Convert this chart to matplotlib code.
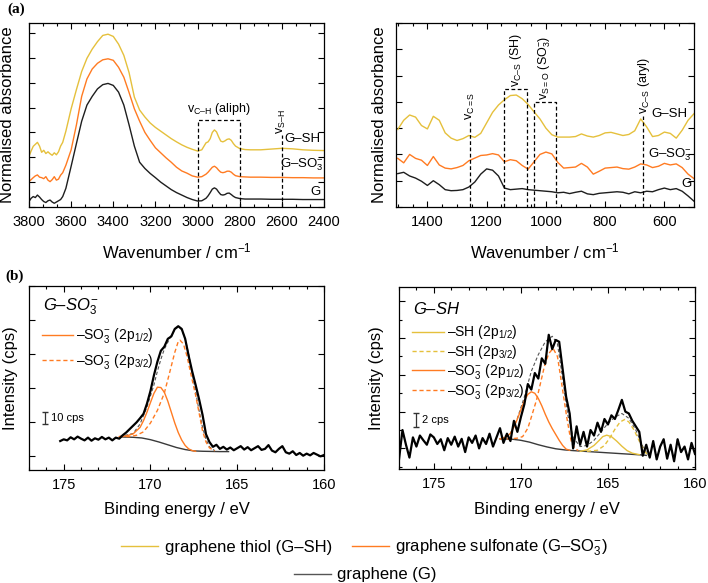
import numpy as np
import matplotlib
matplotlib.use('Agg')
import matplotlib.pyplot as plt
from matplotlib.ticker import MultipleLocator
from matplotlib.lines import Line2D

plt.rcParams['font.family'] = ['Liberation Sans', 'DejaVu Sans']
plt.rcParams['mathtext.fontset'] = 'custom'
plt.rcParams['mathtext.rm'] = 'Liberation Sans'
plt.rcParams['mathtext.it'] = 'Liberation Sans:italic'
plt.rcParams['mathtext.default'] = 'regular'

YELLOW = '#E5C03C'
ORANGE = '#FF7B22'
BLACK = '#1e1e1e'

# ---- (a) FTIR, high wavenumber part ----
wn_hi = [3800, 3790, 3780, 3770, 3760, 3750, 3740, 3730, 3720, 3710, 3700, 3690, 3680, 3670,
         3660, 3650, 3640, 3625, 3600, 3575, 3550, 3525, 3500, 3475, 3450, 3425, 3400, 3375,
         3350, 3325, 3300, 3275, 3250, 3225, 3200, 3175, 3150, 3125, 3100, 3075, 3050, 3025,
         3000, 2980, 2960, 2950, 2940, 2930, 2920, 2910, 2900, 2890, 2880, 2870, 2860, 2850,
         2840, 2830, 2820, 2800, 2775, 2750, 2700, 2650, 2600, 2550, 2500, 2450, 2400]
g_hi = [0.22, 0.35, 0.42, 0.38, 0.48, 0.40, 0.30, 0.22, 0.18, 0.25, 0.28, 0.20, 0.15, 0.20,
        0.25, 0.30, 0.42, 0.75, 1.64, 2.55, 3.45, 4.10, 4.45, 4.75, 4.92, 4.97, 4.89, 4.62,
        4.10, 3.30, 2.45, 1.80, 1.55, 1.35, 1.18, 1.00, 0.85, 0.70, 0.58, 0.48, 0.38, 0.30,
        0.24, 0.25, 0.35, 0.45, 0.58, 0.72, 0.77, 0.72, 0.60, 0.50, 0.48, 0.50, 0.55, 0.56,
        0.50, 0.43, 0.38, 0.34, 0.32, 0.32, 0.32, 0.31, 0.31, 0.31, 0.30, 0.30, 0.30]
so3_hi = [1.02, 1.10, 1.18, 1.25, 1.29, 1.20, 1.18, 1.14, 1.22, 1.08, 1.02, 1.10, 1.22, 1.08,
          1.12, 1.28, 1.38, 1.68, 2.30, 3.30, 4.45, 5.15, 5.55, 5.78, 5.92, 5.96, 5.90, 5.62,
          5.22, 4.60, 3.95, 3.45, 3.00, 2.68, 2.38, 2.18, 1.98, 1.80, 1.60, 1.45, 1.36, 1.25,
          1.20, 1.22, 1.32, 1.40, 1.50, 1.60, 1.64, 1.58, 1.48, 1.40, 1.38, 1.40, 1.44, 1.44,
          1.40, 1.32, 1.26, 1.22, 1.21, 1.20, 1.20, 1.19, 1.19, 1.18, 1.18, 1.17, 1.17]
sh_hi = [2.04, 2.25, 2.44, 2.52, 2.60, 2.45, 2.20, 2.28, 2.15, 2.22, 2.14, 2.08, 2.18, 2.10,
         2.22, 2.45, 2.60, 3.05, 3.95, 4.72, 5.45, 5.98, 6.35, 6.65, 6.90, 6.95, 6.86, 6.55,
         6.10, 5.40, 4.42, 3.90, 3.62, 3.38, 3.20, 3.05, 2.90, 2.75, 2.62, 2.50, 2.40, 2.32,
         2.25, 2.30, 2.58, 2.62, 2.75, 3.00, 3.10, 3.02, 2.82, 2.65, 2.62, 2.66, 2.72, 2.74,
         2.68, 2.55, 2.45, 2.35, 2.31, 2.30, 2.30, 2.33, 2.36, 2.34, 2.30, 2.28, 2.27]

# ---- (a) FTIR, fingerprint part ----
wn_lo = [1500, 1480, 1460, 1440, 1420, 1400, 1380, 1360, 1340, 1320, 1300, 1280, 1260, 1240,
         1220, 1200, 1180, 1160, 1140, 1120, 1100, 1080, 1060, 1040, 1020, 1000, 980, 960,
         940, 920, 900, 880, 860, 840, 820, 800, 780, 760, 740, 720, 700, 680, 660, 640,
         620, 600, 580, 560, 540, 520, 500]
sh_lo = [2.95, 3.30, 3.50, 3.42, 3.10, 2.97, 3.45, 3.30, 2.82, 2.62, 2.53, 2.60, 2.72, 2.65,
         2.80, 3.20, 3.60, 3.88, 4.08, 4.24, 4.26, 4.12, 3.90, 3.62, 3.35, 3.00, 2.75, 2.66,
         2.66, 2.66, 2.68, 2.78, 2.70, 2.66, 2.72, 2.82, 2.84, 2.78, 2.72, 2.76, 2.90, 3.35,
         3.05, 2.68, 2.72, 2.85, 2.80, 2.62, 2.92, 3.30, 3.55]
so3_lo = [1.85, 1.68, 2.00, 1.85, 1.78, 1.58, 1.92, 1.60, 1.48, 1.45, 1.50, 1.58, 1.76, 1.86,
          1.96, 1.98, 2.03, 1.98, 1.72, 1.80, 1.76, 1.58, 1.44, 1.72, 2.00, 2.09, 2.02, 1.70,
          1.48, 1.50, 1.52, 1.66, 1.52, 1.25, 1.36, 1.48, 1.50, 1.52, 1.46, 1.44, 1.52, 1.64,
          1.60, 1.50, 1.55, 1.66, 1.60, 1.64, 1.50, 1.25, 1.08]
g_lo = [1.27, 1.32, 1.18, 1.10, 0.98, 0.82, 1.00, 0.85, 0.66, 0.62, 0.63, 0.66, 0.76, 0.95,
        1.25, 1.45, 1.40, 1.18, 0.72, 0.66, 0.68, 0.70, 0.66, 0.64, 0.62, 0.60, 0.58, 0.54,
        0.56, 0.51, 0.56, 0.60, 0.50, 0.47, 0.52, 0.54, 0.56, 0.58, 0.56, 0.50, 0.58, 0.54,
        0.60, 0.58, 0.66, 0.72, 0.66, 0.70, 0.60, 0.42, 0.22]

# ---- (b) XPS S2p, G-SO3- ----
be_so3 = [175.2, 175.0, 174.8, 174.6, 174.4, 174.2, 174.0, 173.8, 173.6, 173.4, 173.2, 173.0,
          172.8, 172.6, 172.4, 172.2, 172.0, 171.8, 171.6, 171.4, 171.2, 171.0, 170.8, 170.6,
          170.4, 170.2, 170.0, 169.8, 169.6, 169.4, 169.2, 169.0, 168.8, 168.6, 168.4, 168.2,
          168.0, 167.8, 167.6, 167.4, 167.2, 167.0, 166.8, 166.6, 166.4, 166.2, 166.0, 165.8,
          165.6, 165.4, 165.2, 165.0, 164.8, 164.6, 164.4, 164.2, 164.0, 163.8, 163.6, 163.4,
          163.2, 163.0, 162.8, 162.6, 162.4, 162.2, 162.0, 161.8, 161.6, 161.4, 161.2, 161.0,
          160.8, 160.6, 160.4, 160.2, 160.0]
int_so3 = [0.45, 0.50, 0.47, 0.56, 0.50, 0.58, 0.52, 0.47, 0.55, 0.46, 0.53, 0.49,
           0.57, 0.50, 0.55, 0.47, 0.55, 0.52, 0.62, 0.70, 0.80, 0.90, 1.00, 1.12,
           1.25, 1.55, 1.92, 2.38, 2.78, 3.10, 3.22, 3.45, 3.52, 3.74, 3.82, 3.74,
           3.45, 2.95, 2.50, 2.10, 1.68, 1.22, 0.65, 0.42, 0.28, 0.34, 0.22, 0.28,
           0.20, 0.26, 0.18, 0.24, 0.30, 0.20, 0.27, 0.18, 0.24, 0.30, 0.19, 0.22,
           0.33, 0.17, 0.12, 0.22, 0.30, 0.12, 0.08, 0.15, 0.04, 0.10, 0.02, 0.08,
           0.03, 0.10, 0.05, 0.00, 0.04]
bg_so3_be = [171.7, 171.0, 170.5, 170.0, 169.5, 169.0, 168.5, 168.0, 167.5, 167.0, 166.0, 165.5]
bg_so3 = [0.57, 0.56, 0.54, 0.49, 0.42, 0.34, 0.26, 0.20, 0.16, 0.15, 0.14, 0.14]
p12_so3_be = [171.8, 171.4, 171.0, 170.6, 170.4, 170.2, 170.0, 169.8, 169.6, 169.4, 169.2,
              169.0, 168.8, 168.6, 168.4, 168.2, 168.0, 167.8, 167.6, 167.4]
p12_so3 = [0.58, 0.60, 0.66, 0.85, 1.05, 1.30, 1.58, 1.85, 2.03, 2.02, 1.88,
           1.62, 1.30, 0.98, 0.70, 0.48, 0.32, 0.22, 0.17, 0.15]
p32_so3_be = [171.8, 171.2, 170.8, 170.4, 170.0, 169.6, 169.2, 168.9, 168.6, 168.4, 168.3,
              168.1, 167.9, 167.6, 167.4, 167.2, 167.0, 166.8, 166.6, 166.3]
p32_so3 = [0.58, 0.58, 0.62, 0.72, 0.98, 1.35, 1.86, 2.45, 3.05, 3.37, 3.41,
           3.30, 2.95, 2.25, 1.80, 1.28, 0.75, 0.42, 0.25, 0.16]
env_so3_be = [171.8, 171.0, 170.6, 170.2, 169.8, 169.6, 169.4, 169.2, 169.0, 168.8, 168.6,
              168.4, 168.2, 168.0, 167.8, 167.6, 167.4, 167.2, 167.0, 166.8, 166.6, 166.3]
env_so3 = [0.58, 0.67, 0.95, 1.45, 2.10, 2.50, 2.85, 3.15, 3.35, 3.55, 3.72,
           3.80, 3.72, 3.45, 3.00, 2.45, 1.90, 1.35, 0.85, 0.50, 0.28, 0.17]

# ---- (b) XPS S2p, G-SH ----
be_sh = [177.0, 176.8, 176.6, 176.4, 176.2, 176.0, 175.8, 175.6, 175.4, 175.2, 175.0, 174.8,
         174.6, 174.4, 174.2, 174.0, 173.8, 173.6, 173.4, 173.2, 173.0, 172.8, 172.6, 172.4,
         172.2, 172.0, 171.8, 171.6, 171.4, 171.2, 171.0, 170.8, 170.6, 170.4, 170.2, 170.0,
         169.8, 169.6, 169.4, 169.2, 169.0, 168.8, 168.6, 168.4, 168.2, 168.0, 167.8, 167.6,
         167.4, 167.2, 167.0, 166.8, 166.6, 166.4, 166.2, 166.0, 165.8, 165.6, 165.4, 165.2,
         165.0, 164.8, 164.6, 164.4, 164.2, 164.0, 163.8, 163.6, 163.4, 163.2, 163.0, 162.8,
         162.6, 162.4, 162.2, 162.0, 161.8, 161.6, 161.4, 161.2, 161.0, 160.8, 160.6, 160.4,
         160.2, 160.0]
int_sh = [-0.30, 0.50, 0.10, -0.25, 0.30, 0.05, 0.35, 0.22, 0.10, 0.38, 0.30, 0.12,
          0.25, -0.05, 0.28, 0.10, 0.32, 0.05, 0.26, -0.10, 0.30, 0.15, 0.35, 0.00,
          0.28, 0.12, 0.40, 0.05, 0.30, 0.55, 0.15, 0.40, 0.20, 0.75, 0.45, 0.85,
          1.20, 1.75, 1.60, 2.05, 1.90, 2.45, 2.30, 3.09, 2.70, 2.95, 2.90, 2.15,
          1.40, 0.95, 0.00, 0.60, 0.10, 0.45, 0.05, 0.50, 0.35, 0.70, 0.45, 0.80,
          0.65, 0.90, 0.80, 1.05, 1.32, 1.00, 0.95, 0.75, 0.60, 0.45, -0.20, 0.10,
          -0.25, 0.20, -0.30, 0.05, 0.25, -0.28, 0.10, -0.35, 0.25, -0.10, 0.05, -0.30,
          0.15, -0.15]
bg_sh_be = [171.2, 170.5, 170.0, 169.5, 169.0, 168.5, 168.0, 167.5, 167.0, 166.0, 165.0,
            164.0, 163.0, 162.8]
bg_sh = [0.26, 0.25, 0.22, 0.17, 0.10, 0.04, -0.01, -0.04, -0.06, -0.09, -0.12,
         -0.15, -0.18, -0.19]
p12_sh_so3_be = [171.2, 170.8, 170.6, 170.4, 170.2, 170.0, 169.8, 169.6, 169.4, 169.2, 169.0,
                 168.8, 168.6, 168.4, 168.2, 168.0, 167.8, 167.6, 167.4, 167.2]
p12_sh_so3 = [0.26, 0.32, 0.41, 0.58, 0.80, 1.05, 1.30, 1.47, 1.54, 1.50, 1.36,
              1.16, 0.93, 0.72, 0.54, 0.38, 0.22, 0.08, -0.02, -0.05]
p32_sh_so3_be = [171.2, 170.6, 170.2, 169.9, 169.6, 169.4, 169.1, 168.9, 168.65, 168.4, 168.15,
                 167.9, 167.66, 167.37, 167.2, 167.08, 166.9, 166.7]
p32_sh_so3 = [0.26, 0.26, 0.28, 0.32, 0.55, 0.85, 1.32, 1.72, 2.23, 2.58, 2.72,
              2.50, 1.77, 0.86, 0.40, 0.14, 0.00, -0.06]
p12_sh_be = [166.6, 166.2, 165.8, 165.5, 165.3, 165.07, 164.8, 164.5, 164.2, 163.9, 163.6, 163.2]
p12_sh = [-0.08, -0.04, 0.08, 0.22, 0.32, 0.36, 0.32, 0.20, 0.06, -0.06, -0.13, -0.17]
p32_sh_be = [166.2, 165.6, 165.2, 164.9, 164.6, 164.3, 164.02, 163.8, 163.5, 163.2, 162.9, 162.7]
p32_sh = [-0.08, -0.05, 0.08, 0.28, 0.52, 0.72, 0.79, 0.72, 0.50, 0.20, -0.08, -0.18]
env_sh_be = [171.2, 170.6, 170.2, 169.8, 169.4, 169.0, 168.6, 168.2, 167.9, 167.6, 167.3,
             167.0, 166.6, 166.2, 165.8, 165.4, 165.0, 164.6, 164.2, 163.8, 163.4, 163.0, 162.7]
env_sh = [0.26, 0.41, 0.82, 1.40, 2.10, 2.55, 2.90, 3.05, 2.85, 1.90, 0.90,
          0.30, 0.05, 0.08, 0.22, 0.45, 0.68, 0.85, 0.95, 0.82, 0.50, 0.05, -0.18]

W, H = 708, 583
fig = plt.figure(figsize=(W / 100, H / 100), dpi=100)


def px_axes(l, t, r, b):
    return fig.add_axes([l / W, 1 - b / H, (r - l) / W, (b - t) / H])


def style(ax):
    ax.tick_params(which='both', direction='in', top=True, right=True,
                   labelsize=10.5, pad=6, width=0.8)
    ax.tick_params(which='major', length=4.5)
    ax.tick_params(which='minor', length=2.5)
    ax.tick_params(axis='y', labelleft=False)
    for s in ax.spines.values():
        s.set_linewidth(0.9)


dash = (0, (3, 2))

# (a) left
ax1 = px_axes(29, 23, 324, 207)
ax1.plot(wn_hi, g_hi, color=BLACK, lw=1.0)
ax1.plot(wn_hi, so3_hi, color=ORANGE, lw=1.0)
ax1.plot(wn_hi, sh_hi, color=YELLOW, lw=1.0)
ax1.set_xlim(3800, 2400)
ax1.set_ylim(0, 7.4)
ax1.xaxis.set_major_locator(MultipleLocator(200))
ax1.xaxis.set_minor_locator(MultipleLocator(200 / 3))
ax1.yaxis.set_major_locator(MultipleLocator(1))
style(ax1)
ax1.plot([3000, 3000, 2800, 2800], [0, 3.49, 3.49, 0], color='k', lw=0.9, ls=dash)
ax1.plot([2600, 2600], [0, 2.9], color='k', lw=0.9, ls=dash)
ax1.text(2900, 3.62, r'v$_{C–H}$ (aliph)', ha='center', va='bottom', fontsize=9)
ax1.text(2600, 2.95, r'v$_{S–H}$', ha='center', va='bottom', rotation=90, fontsize=9)
ax1.text(2415, 2.74, 'G–SH', ha='right', va='center', fontsize=9.5)
ax1.text(2398, 1.68, r'G–SO$_3^{-}$', ha='right', va='center', fontsize=9.5)
ax1.text(2415, 0.6, 'G', ha='right', va='center', fontsize=9.5)
ax1.set_ylabel('Normalised absorbance', fontsize=12)
ax1.yaxis.set_label_coords(-0.047, 0.5)
ax1.set_xlabel('Wavenumber / cm$^{-1}$', fontsize=12, va='top')
ax1.xaxis.set_label_coords(0.5, -0.19)

# (a) right
ax2 = px_axes(396, 23, 694, 207)
ax2.plot(wn_lo, g_lo, color=BLACK, lw=1.0)
ax2.plot(wn_lo, so3_lo, color=ORANGE, lw=1.0)
ax2.plot(wn_lo, sh_lo, color=YELLOW, lw=1.0)
ax2.set_xlim(1506, 500)
ax2.set_ylim(0, 7)
ax2.xaxis.set_major_locator(MultipleLocator(200))
ax2.xaxis.set_minor_locator(MultipleLocator(50))
ax2.yaxis.set_major_locator(MultipleLocator(1))
style(ax2)
ax2.plot([1255, 1255], [0, 3.23], color='k', lw=0.9, ls=dash)
ax2.plot([1140, 1140, 1063, 1063], [0, 4.49, 4.49, 0], color='k', lw=0.9, ls=dash)
ax2.plot([1041, 1041, 966, 966], [0, 3.99, 3.99, 0], color='k', lw=0.9, ls=dash)
ax2.plot([672, 672], [0, 3.48], color='k', lw=0.9, ls=dash)
ax2.text(1255, 3.3, r'v$_{C=S}$', ha='center', va='bottom', rotation=90, fontsize=9)
ax2.text(1102, 4.58, r'v$_{C–S}$ (SH)', ha='center', va='bottom', rotation=90, fontsize=9)
ax2.text(1004, 4.08, r'v$_{S=O}$ (SO$_3^{-}$)', ha='center', va='bottom', rotation=90, fontsize=9)
ax2.text(670, 3.55, r'v$_{C–S}$ (aryl)', ha='center', va='bottom', rotation=90, fontsize=9)
ax2.text(522, 3.54, 'G–SH', ha='right', va='center', fontsize=9.5)
ax2.text(508, 1.99, r'G–SO$_3^{-}$', ha='right', va='center', fontsize=9.5)
ax2.text(509, 0.89, 'G', ha='right', va='center', fontsize=9.5)
ax2.set_ylabel('Normalised absorbance', fontsize=12)
ax2.yaxis.set_label_coords(-0.030, 0.5)
ax2.set_xlabel('Wavenumber / cm$^{-1}$', fontsize=12, va='top')
ax2.xaxis.set_label_coords(0.5, -0.19)

# (b) left: G-SO3-
ax3 = px_axes(29, 286, 324, 470)
ax3.plot(bg_so3_be, bg_so3, color='#3a3a3a', lw=1.0)
ax3.plot(env_so3_be, env_so3, color='#555555', lw=0.8, ls=dash)
l1, = ax3.plot(p12_so3_be, p12_so3, color=ORANGE, lw=1.0)
l2, = ax3.plot(p32_so3_be, p32_so3, color=ORANGE, lw=1.0, ls=dash)
ax3.plot(be_so3, int_so3, color='k', lw=1.6)
ax3.set_xlim(177, 160)
ax3.set_ylim(-0.4, 5.0)
ax3.xaxis.set_major_locator(MultipleLocator(5))
ax3.xaxis.set_minor_locator(MultipleLocator(1))
ax3.yaxis.set_major_locator(MultipleLocator(1))
style(ax3)
ax3.text(176.2, 4.4, r'$\mathit{G–SO_3^{-}}$', ha='left', va='center', fontsize=12)
ax3.legend([l1, l2], [r'–SO$_3^{-}$ (2p$_{1/2}$)', r'–SO$_3^{-}$ (2p$_{3/2}$)'],
           loc='upper left', bbox_to_anchor=(0.044, 0.78), frameon=False, fontsize=10,
           handlelength=2.2, handletextpad=0.25, labelspacing=0.45, borderpad=0,
           borderaxespad=0)
ax3.errorbar([176.1], [1.135], yerr=[0.18], color='#333333', lw=0.9, capsize=2.2)
ax3.text(175.75, 1.12, '10 cps', ha='left', va='center', fontsize=8)
ax3.set_ylabel('Intensity (cps)', fontsize=12)
ax3.yaxis.set_label_coords(-0.036, 0.5)
ax3.set_xlabel('Binding energy / eV', fontsize=12, va='top')
ax3.xaxis.set_label_coords(0.5, -0.175)

# (b) right: G-SH
ax4 = px_axes(399, 287, 695, 469)
ax4.plot(bg_sh_be, bg_sh, color='#3a3a3a', lw=1.0)
ax4.plot(env_sh_be, env_sh, color='#555555', lw=0.8, ls=dash)
k1, = ax4.plot(p12_sh_be, p12_sh, color=YELLOW, lw=1.0)
k2, = ax4.plot(p32_sh_be, p32_sh, color=YELLOW, lw=1.0, ls=dash)
k3, = ax4.plot(p12_sh_so3_be, p12_sh_so3, color=ORANGE, lw=1.0)
k4, = ax4.plot(p32_sh_so3_be, p32_sh_so3, color=ORANGE, lw=1.0, ls=dash)
ax4.plot(be_sh, int_sh, color='k', lw=1.6)
ax4.set_xlim(177, 160)
ax4.set_ylim(-0.56, 4.39)
ax4.xaxis.set_major_locator(MultipleLocator(5))
ax4.xaxis.set_minor_locator(MultipleLocator(1))
ax4.yaxis.set_major_locator(MultipleLocator(1))
ax4.yaxis.set_minor_locator(MultipleLocator(0.5))
style(ax4)
ax4.text(176.2, 3.8, r'$\mathit{G–SH}$', ha='left', va='center', fontsize=12)
ax4.legend([k1, k2, k3, k4],
           ['–SH (2p$_{1/2}$)', '–SH (2p$_{3/2}$)',
            r'–SO$_3^{-}$ (2p$_{1/2}$)', r'–SO$_3^{-}$ (2p$_{3/2}$)'],
           loc='upper left', bbox_to_anchor=(0.044, 0.80), frameon=False, fontsize=10,
           handlelength=2.3, handletextpad=0.25, labelspacing=0.08, borderpad=0,
           borderaxespad=0)
ax4.errorbar([176.04], [0.77], yerr=[0.18], color='#333333', lw=0.9, capsize=2.2)
ax4.text(175.66, 0.76, '2 cps', ha='left', va='center', fontsize=8)
ax4.set_ylabel('Intensity (cps)', fontsize=12)
ax4.yaxis.set_label_coords(-0.051, 0.5)
ax4.set_xlabel('Binding energy / eV', fontsize=12, va='top')
ax4.xaxis.set_label_coords(0.5, -0.18)

fig.text(7 / W, 1 - 9 / H, '(a)', family='Liberation Serif', fontweight='bold',
         fontsize=11, va='center', ha='left')
fig.text(5 / W, 1 - 276 / H, '(b)', family='Liberation Serif', fontweight='bold',
         fontsize=11, va='center', ha='left')

h_y = Line2D([], [], color=YELLOW, lw=1.0)
h_o = Line2D([], [], color=ORANGE, lw=1.0)
h_k = Line2D([], [], color='#555555', lw=1.0)
fig.legend([h_y, h_o], ['graphene thiol (G–SH)', r'graphene sulfonate (G–SO$_3^{-}$)'],
           loc='center', bbox_to_anchor=(0.515, 0.060), ncol=2, frameon=False, fontsize=12,
           handlelength=2.2, handletextpad=0.4, columnspacing=1.2)
fig.legend([h_k], ['graphene (G)'], loc='center', bbox_to_anchor=(0.516, 0.014),
           frameon=False, fontsize=12, handlelength=2.2, handletextpad=0.4)

fig.savefig('out.png', dpi=100)
